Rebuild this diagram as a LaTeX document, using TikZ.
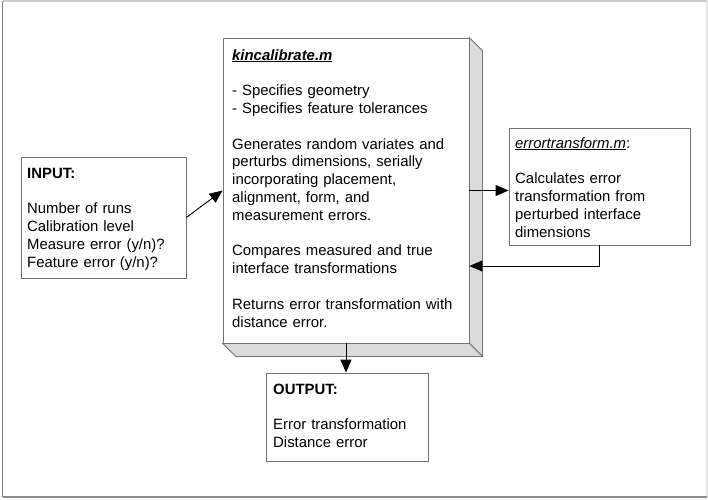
\documentclass[tikz,border=0pt]{standalone}
\usepackage{fontspec}
\setmainfont{Liberation Sans}
\usetikzlibrary{arrows.meta,calc}
\begin{document}
\begin{tikzpicture}[x=1pt,y=-1pt,
  box/.style={draw=black!55, line width=0.8pt, fill=white, inner sep=0pt},
  txt/.style={anchor=base west, align=left, inner sep=0pt, font=\fontsize{14.9pt}{17.8pt}\selectfont, text=black},
  arr/.style={-{Triangle[length=13pt,width=11pt]}, line width=0.9pt, black},
  side/.style={draw=black!55, line width=0.8pt, fill=black!14}]
\useasboundingbox (0,0) rectangle (708,499);
\fill[white] (0,0) rectangle (708,499);
% outer frame
\draw[black!20, line width=1.2pt] (2.5,1) -- (707,1);
\draw[black!10, line width=1.2pt] (707,1) -- (707,497);
\draw[black!45, line width=1.5pt] (2.5,497) -- (707,497);
\draw[black!50, line width=1.5pt] (2.5,1) -- (2.5,497);
% boxes
\node[box, minimum width=165pt, minimum height=121pt] (input) at (103.5,217.5) {};
\node[box, minimum width=246pt, minimum height=305pt] (main) at (346,190.5) {};
\node[box, minimum width=181pt, minimum height=117pt] (errt) at (599.5,186.5) {};
\node[box, minimum width=162pt, minimum height=88pt] (output) at (347,417) {};
% 3D side faces of main box
\draw[side] (main.north east) -- ++(13,13) -- ($(main.south east)+(13,13)$) -- (main.south east) -- cycle;
\draw[side] (main.south west) -- ++(13,13) -- ($(main.south east)+(13,13)$) -- (main.south east) -- cycle;
% texts
\node[txt, text width=150pt] (inputtext) at (27,178) {\textbf{INPUT:}\\[17.8pt]
Number of runs\\ Calibration level\\ Measure error (y/n)?\\ Feature error (y/n)?};
\node[txt, text width=236pt] (maintext) at (232,60) {\textbf{\textit{\underline{kincalibrate.m}}}\\[17.8pt]
- Specifies geometry\\ - Specifies feature tolerances\\[17.8pt]
Generates random variates and\\ perturbs dimensions, serially\\ incorporating placement,\\ alignment, form, and\\ measurement errors.\\[17.8pt]
Compares measured and true\\ interface transformations\\[17.8pt]
Returns error transformation with\\ distance error.};
\node[txt, text width=170pt] (errttext) at (515,148) {\textit{\underline{errortransform.m}}:\\[17.8pt]
Calculates error\\ transformation from\\ perturbed interface\\ dimensions};
\node[txt, text width=150pt] (outputtext) at (273,394) {\textbf{OUTPUT:}\\[17.8pt]
Error transformation\\ Distance error};
% connectors
\coordinate (ret) at ($(main.east)+(0,75.5)$);
\draw[arr] (input.east) -- (main.west);
\draw[arr] (main.east) -- (main.east -| errt.west);
\draw[arr] (errt.south) |- (ret);
\draw[arr] (main.south) -- (main.south |- output.north);
\end{tikzpicture}
\end{document}
